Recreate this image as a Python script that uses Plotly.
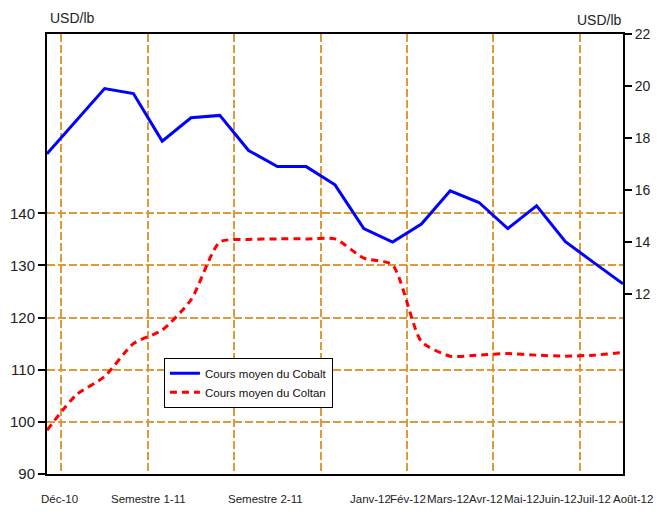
import plotly.graph_objects as go

# 21 monthly observations, Dec 2010 .. Aug 2012
months = ["Déc-10", "Janv-11", "Fév-11", "Mars-11", "Avr-11", "Mai-11", "Juin-11",
          "Juil-11", "Août-11", "Sept-11", "Oct-11", "Nov-11", "Déc-11",
          "Janv-12", "Fév-12", "Mars-12", "Avr-12", "Mai-12", "Juin-12", "Juil-12", "Août-12"]
cobalt = [17.39, 18.65, 19.90, 19.71, 17.88, 18.78, 18.87, 17.52, 16.90, 16.90, 16.20,
          14.52, 14.00, 14.69, 15.97, 15.52, 14.52, 15.39, 14.01, 13.20, 12.39]
coltan = [98.4, 105.1, 108.7, 115.0, 117.6, 123.4, 134.5, 135.0, 135.1, 135.1, 135.1,
          131.4, 130.1, 115.4, 112.6, 112.8, 113.1, 112.8, 112.6, 112.8, 113.3]

x_labels = ["Déc-10", "Semestre 1-11", "Semestre 2-11", "Janv-12", "Fév-12", "Mars-12",
            "Avr-12", "Mai-12", "Juin-12", "Juil-12", "Août-12"]
x_label_pos = [0.45, 3.54, 7.57, 11.22, 12.52, 13.91, 15.25, 16.48, 17.73, 18.99, 20.35]

left_ticks = [90, 100, 110, 120, 130, 140]
right_ticks = [12, 14, 16, 18, 20, 22]
grid_x = [0.5, 3.5, 6.5, 9.5, 12.5, 15.5, 18.5]

x = list(range(len(months)))
X_RANGE = [0, len(months) - 1]
GRID = "#DE9A3A"
FONT = "Liberation Sans, Arial, sans-serif"

fig = go.Figure()
fig.add_trace(go.Scatter(x=x, y=cobalt, name="Cours moyen du Cobalt", yaxis="y2",
                         mode="lines", line=dict(color="#0000FF", width=3),
                         text=months))
fig.add_trace(go.Scatter(x=x, y=coltan, name="Cours moyen du Coltan", yaxis="y",
                         mode="lines", line=dict(color="#FF0000", width=3, dash="7px,5px",
                                                 shape="spline", smoothing=0.6),
                         text=months))

# page body has an 8px default margin: figure is sized to fit inside the window
fig.update_layout(
    width=656, height=498,
    margin=dict(l=39, r=41, t=26, b=32),
    paper_bgcolor="white", plot_bgcolor="white",
    font=dict(family=FONT, color="#222222"),
    showlegend=True,
    legend=dict(x=0.203, y=0.264, xanchor="left", yanchor="top",
                bgcolor="white", bordercolor="black", borderwidth=1,
                font=dict(size=11.5, family=FONT, color="#111111"),
                tracegroupgap=0, itemwidth=30),
    xaxis=dict(range=X_RANGE, showticklabels=False, ticks="", showgrid=False,
               automargin=False,
               zeroline=False, showline=True, linecolor="black", linewidth=2, mirror=True,
               minor=dict(tickmode="array", tickvals=grid_x, showgrid=True,
                          gridcolor=GRID, gridwidth=1.5, griddash="8px,3px", ticks="")),
    yaxis=dict(range=[90, 174.4], tickmode="array", tickvals=left_ticks, automargin=False,
               ticks="outside", ticklen=7, tickwidth=1.5, tickcolor="black",
               tickfont=dict(size=15, family=FONT, color="#222222"),
               showgrid=True, gridcolor=GRID, gridwidth=1.5, griddash="8px,3px",
               zeroline=False, showline=True, linecolor="black", linewidth=2),
    yaxis2=dict(range=[5.08, 22], overlaying="y", side="right", tickmode="array",
                automargin=False,
                tickvals=right_ticks, ticks="outside", ticklen=7, tickwidth=1.5,
                tickcolor="black", tickfont=dict(size=14, family=FONT, color="#222222"),
                showgrid=False, zeroline=False, showline=True, linecolor="black",
                linewidth=2),
)

span = X_RANGE[1] - X_RANGE[0]
annotations = []
for lab, pos in zip(x_labels, x_label_pos):
    annotations.append(dict(x=(pos - X_RANGE[0]) / span, xref="paper", y=0, yref="paper",
                            text=lab, showarrow=False, xanchor="center", yanchor="middle",
                            yshift=-25, font=dict(size=11.5, family=FONT, color="#222222")))
annotations.append(dict(x=0, xref="paper", y=1, yref="paper", text="USD/lb",
                        showarrow=False, xanchor="left", yanchor="top", xshift=1,
                        yshift=26, font=dict(size=14, family=FONT, color="#222222")))
annotations.append(dict(x=1, xref="paper", y=1, yref="paper", text="USD/lb",
                        showarrow=False, xanchor="right", yanchor="top", xshift=1,
                        yshift=24, font=dict(size=14, family=FONT, color="#222222")))
fig.update_layout(annotations=annotations)

fig.write_html("out.html")
